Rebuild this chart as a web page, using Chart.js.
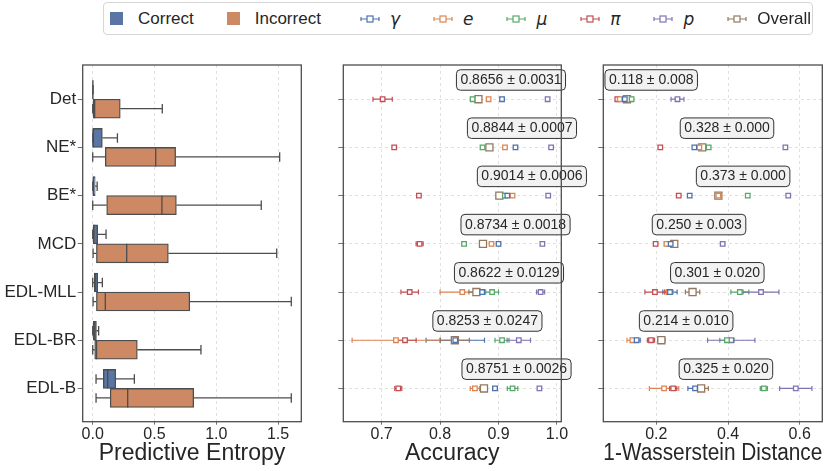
<!DOCTYPE html>
<html>
<head>
  <title>Uncertainty comparison</title>
  <script src="https://cdn.jsdelivr.net/npm/chart.js@4.4.1/dist/chart.umd.min.js"></script>
  <style>
    * {
      margin: 0;
      padding: 0;
      box-sizing: border-box;
    }

    body {
      width: 839px;
      height: 471px;
      background: #ffffff;
      position: relative;
      overflow: hidden;
      font-family: 'Liberation Sans', Arial, sans-serif;
      color: #262626;
    }

    canvas {
      position: absolute;
      top: 0;
    }

    .legend {
      position: absolute;
      left: 103px;
      top: 2px;
      width: 710px;
      height: 33px;
      border: 1px solid #d6d6d6;
      border-radius: 4px;
      background: #fff;
      display: flex;
      align-items: center;
      padding-left: 6px;
      font-size: 17px;
      z-index: 5;
    }

    .legend .item {
      display: flex;
      align-items: center;
      margin-right: 33px;
    }

    .legend .item.wide {
      margin-right: 39px;
    }

    .legend .patch {
      width: 13px;
      height: 13px;
      margin-right: 15px;
    }

    .legend svg {
      margin-right: 10px;
    }

    .legend .sym {
      font-family: 'DejaVu Sans', sans-serif;
      font-style: italic;
    }
  </style>
</head>
<body>
<div class="legend" id="legend"></div>
<canvas id="entropyChart" width="320" height="471" style="left:0"></canvas>
<canvas id="accChart" width="285" height="471" style="left:310px"></canvas>
<canvas id="w1Chart" width="264" height="471" style="left:575px"></canvas>

<script>
  const methods = ['Det', 'NE*', 'BE*', 'MCD', 'EDL-MLL', 'EDL-BR', 'EDL-B'];

  // predictive entropy boxes: whisker low, q1, median, q3, whisker high
  const correctLow  = [0.000, 0.000, 0.000, 0.000, 0.000, 0.000, 0.027];
  const correctQ1   = [0.000, 0.000, 0.000, 0.000, 0.013, 0.005, 0.086];
  const correctMed  = [0.001, 0.002, 0.005, 0.010, 0.020, 0.012, 0.121];
  const correctQ3   = [0.002, 0.078, 0.020, 0.040, 0.040, 0.030, 0.186];
  const correctHigh = [0.004, 0.200, 0.036, 0.108, 0.078, 0.048, 0.337];

  const incorrectLow  = [0.000, 0.000, 0.000, 0.003, 0.003, 0.000, 0.027];
  const incorrectQ1   = [0.000, 0.102, 0.113, 0.030, 0.030, 0.016, 0.142];
  const incorrectMed  = [0.016, 0.510, 0.560, 0.275, 0.102, 0.031, 0.283];
  const incorrectQ3   = [0.223, 0.671, 0.677, 0.612, 0.785, 0.361, 0.817];
  const incorrectHigh = [0.563, 1.513, 1.364, 1.489, 1.607, 0.876, 1.607];

  const seriesNames = ['γ', 'e', 'μ', 'π', 'p'];
  const seriesColors = ['#4c72b0', '#dd8452', '#55a868', '#c44e52', '#8172b3'];
  const overallColor = '#937860';
  const correctColor = '#5875a4';
  const incorrectColor = '#cc8963';

  // accuracy per property (mean, spread)
  const accGamma = [0.906, 0.929, 0.915, 0.900, 0.872, 0.826, 0.894];
  const accGammaErr = [0.003, 0.000, 0.000, 0.002, 0.004, 0.050, 0.004];
  const accE = [0.883, 0.911, 0.924, 0.888, 0.838, 0.7245, 0.8596];
  const accEErr = [0.000, 0.000, 0.000, 0.002, 0.038, 0.075, 0.008];
  const accMu = [0.8556, 0.8726, 0.9108, 0.841, 0.889, 0.906, 0.924];
  const accMuErr = [0.002, 0.000, 0.000, 0.003, 0.011, 0.012, 0.009];
  const accPi = [0.7017, 0.7215, 0.7638, 0.765, 0.748, 0.740, 0.7285];
  const accPiErr = [0.0165, 0.000, 0.000, 0.006, 0.015, 0.019, 0.006];
  const accP = [0.984, 0.990, 0.985, 0.975, 0.972, 0.9347, 0.970];
  const accPErr = [0.000, 0.000, 0.000, 0.000, 0.007, 0.020, 0.000];
  const accOverall = [0.8656, 0.8844, 0.9014, 0.8734, 0.8622, 0.8253, 0.8751];
  const accOverallErr = [0.0031, 0.0007, 0.0006, 0.0018, 0.0129, 0.0247, 0.0026];

  // 1-Wasserstein distance per property (mean, spread)
  const w1Gamma = [0.112, 0.306, 0.293, 0.240, 0.238, 0.145, 0.308];
  const w1GammaErr = [0.003, 0.000, 0.000, 0.000, 0.020, 0.010, 0.020];
  const w1E = [0.098, 0.320, 0.373, 0.228, 0.235, 0.133, 0.2215];
  const w1EErr = [0.004, 0.000, 0.000, 0.005, 0.012, 0.015, 0.041];
  const w1Mu = [0.131, 0.346, 0.455, 0.235, 0.433, 0.397, 0.500];
  const w1MuErr = [0.003, 0.000, 0.000, 0.000, 0.025, 0.020, 0.010];
  const w1Pi = [0.091, 0.211, 0.2625, 0.198, 0.196, 0.185, 0.247];
  const w1PiErr = [0.003, 0.000, 0.000, 0.005, 0.028, 0.010, 0.010];
  const w1P = [0.259, 0.560, 0.568, 0.385, 0.492, 0.409, 0.589];
  const w1PErr = [0.018, 0.000, 0.000, 0.005, 0.050, 0.066, 0.045];
  const w1Overall = [0.118, 0.328, 0.373, 0.250, 0.301, 0.214, 0.325];
  const w1OverallErr = [0.008, 0.000, 0.000, 0.003, 0.020, 0.010, 0.020];

  const entropyTicks = [0.0, 0.5, 1.0, 1.5];
  const accTicks = [0.7, 0.8, 0.9, 1.0];
  const w1Ticks = [0.2, 0.4, 0.6];
  const rowTicks = methods.map((m, i) => i);

  Chart.defaults.font.family = "'Liberation Sans', Arial, sans-serif";
  Chart.defaults.color = '#262626';

  const lineGray = '#4d4d4d';
  const gridColor = '#d9d9d9';
  const boxThickness = 19;

  // legend
  const legend = document.getElementById('legend');
  function addPatch(color, text, extra) {
    const it = document.createElement('div');
    it.className = 'item' + (extra ? ' wide' : '');
    it.innerHTML = `<span class="patch" style="background:${color}"></span>${text}`;
    legend.appendChild(it);
  }
  function addErrMarker(color, text, cls) {
    const it = document.createElement('div');
    it.className = 'item';
    it.innerHTML =
      `<svg width="20" height="10" viewBox="0 0 20 10">` +
      `<path d="M1 5H19M1 3V7M19 3V7" stroke="${color}" stroke-width="1.2" fill="none"/>` +
      `<rect x="7" y="2" width="6" height="6" fill="#fff" stroke="${color}" stroke-width="1.2"/></svg>` +
      `<span class="${cls}">${text}</span>`;
    legend.appendChild(it);
  }
  addPatch(correctColor, 'Correct', false);
  addPatch(incorrectColor, 'Incorrect', true);
  seriesNames.forEach((n, i) => addErrMarker(seriesColors[i], n, 'sym'));
  addErrMarker(overallColor, 'Overall', '');
  legend.lastChild.style.marginRight = '0';

  const framePlugin = {
    id: 'frame',
    afterDraw(chart) {
      const {ctx, chartArea: a} = chart;
      ctx.save();
      ctx.strokeStyle = lineGray;
      ctx.lineWidth = 1.3;
      ctx.strokeRect(a.left, a.top, a.right - a.left, a.bottom - a.top);
      ctx.restore();
    }
  };

  function fixedTicks(values) {
    return scale => { scale.ticks = values.map(v => ({value: v})); };
  }

  function xScale(min, max, ticks, title) {
    return {
      type: 'linear',
      min: min,
      max: max,
      offset: false,
      afterBuildTicks: fixedTicks(ticks),
      afterFit: s => { s.height = 49.3; },
      grid: {color: gridColor, lineWidth: 0.8, offset: false, tickLength: 3, tickColor: lineGray, tickBorderDash: []},
      border: {display: false, dash: [3, 3]},
      ticks: {
        padding: 0,
        font: {size: 16},
        color: '#262626',
        callback: v => v.toFixed(1)
      },
      title: {display: true, text: title, font: {size: 23}, color: '#262626', padding: {top: 0, bottom: 3.5}}
    };
  }

  function yScale(width, showLabels, drawGrid) {
    return {
      type: 'linear',
      reverse: true,
      min: -0.71,
      max: 6.69,
      offset: false,
      afterBuildTicks: fixedTicks(rowTicks),
      afterFit: s => { s.width = width; },
      grid: {color: gridColor, lineWidth: 0.8, offset: false, drawOnChartArea: drawGrid, tickLength: 5, tickColor: lineGray, tickBorderDash: []},
      border: {display: false, dash: [3, 3]},
      ticks: {
        padding: 1.5,
        font: {size: 17},
        color: '#262626',
        callback: v => showLabels ? methods[v] : ''
      }
    };
  }

  // ---- predictive entropy boxplot ----
  const whiskerPlugin = {
    id: 'whiskers',
    afterDatasetsDraw(chart) {
      const {ctx} = chart;
      const x = chart.scales.x, y = chart.scales.y;
      const groups = [
        [correctLow, correctQ1, correctMed, correctQ3, correctHigh, -1],
        [incorrectLow, incorrectQ1, incorrectMed, incorrectQ3, incorrectHigh, 1]
      ];
      ctx.save();
      ctx.strokeStyle = lineGray;
      ctx.lineWidth = 1.3;
      groups.forEach(([lo, q1, med, q3, hi, side]) => {
        methods.forEach((m, i) => {
          const cy = y.getPixelForValue(i) + side * boxThickness / 2;
          const h = boxThickness / 2;
          const cap = boxThickness / 4;
          ctx.beginPath();
          ctx.moveTo(x.getPixelForValue(lo[i]), cy);
          ctx.lineTo(x.getPixelForValue(q1[i]), cy);
          ctx.moveTo(x.getPixelForValue(q3[i]), cy);
          ctx.lineTo(x.getPixelForValue(hi[i]), cy);
          ctx.moveTo(x.getPixelForValue(lo[i]), cy - cap);
          ctx.lineTo(x.getPixelForValue(lo[i]), cy + cap);
          ctx.moveTo(x.getPixelForValue(hi[i]), cy - cap);
          ctx.lineTo(x.getPixelForValue(hi[i]), cy + cap);
          ctx.moveTo(x.getPixelForValue(med[i]), cy - h);
          ctx.lineTo(x.getPixelForValue(med[i]), cy + h);
          ctx.stroke();
        });
      });
      ctx.restore();
    }
  };

  new Chart(document.getElementById('entropyChart'), {
    type: 'bar',
    data: {
      datasets: [
        {
          label: 'Correct',
          data: methods.map((m, i) => ({x: [correctQ1[i], correctQ3[i]], y: i})),
          backgroundColor: correctColor,
          borderColor: lineGray,
          borderWidth: 1.3,
          borderSkipped: false,
          barThickness: boxThickness
        },
        {
          label: 'Incorrect',
          data: methods.map((m, i) => ({x: [incorrectQ1[i], incorrectQ3[i]], y: i})),
          backgroundColor: incorrectColor,
          borderColor: lineGray,
          borderWidth: 1.3,
          borderSkipped: false,
          barThickness: boxThickness
        }
      ]
    },
    options: {
      indexAxis: 'y',
      responsive: false,
      animation: false,
      layout: {padding: {top: 65, right: 18.7, bottom: 0, left: 0}},
      plugins: {legend: {display: false}, tooltip: {enabled: false}},
      scales: {
        x: xScale(-0.081, 1.688, entropyTicks, 'Predictive Entropy'),
        y: yScale(82.7, true, false)
      }
    },
    plugins: [whiskerPlugin, framePlugin]
  });

  // ---- error-bar panels ----
  function makeErrChart(id, means, errs, overall, overallErr, ticks, min, max, title, digits, yWidth, rightPad) {
    const allMeans = means.concat([overall]);
    const allErrs = errs.concat([overallErr]);
    const allColors = seriesColors.concat([overallColor]);

    const errPlugin = {
      id: 'errbars',
      beforeDatasetsDraw(chart) {
        const {ctx} = chart;
        const x = chart.scales.x, y = chart.scales.y;
        ctx.save();
        ctx.lineWidth = 1.2;
        allMeans.forEach((arr, s) => {
          ctx.strokeStyle = allColors[s];
          arr.forEach((v, i) => {
            const e = allErrs[s][i];
            if (e <= 0) return;
            const cy = y.getPixelForValue(i);
            const x1 = x.getPixelForValue(v - e), x2 = x.getPixelForValue(v + e);
            ctx.beginPath();
            ctx.moveTo(x1, cy); ctx.lineTo(x2, cy);
            ctx.moveTo(x1, cy - 2.5); ctx.lineTo(x1, cy + 2.5);
            ctx.moveTo(x2, cy - 2.5); ctx.lineTo(x2, cy + 2.5);
            ctx.stroke();
          });
        });
        ctx.restore();
      },
      afterDatasetsDraw(chart) {
        const {ctx} = chart;
        const x = chart.scales.x, y = chart.scales.y;
        ctx.save();
        ctx.font = "14px 'Liberation Sans', Arial, sans-serif";
        ctx.textBaseline = 'middle';
        overall.forEach((v, i) => {
          const text = `${v.toFixed(digits)} ± ${overallErr[i].toFixed(digits)}`;
          const w = ctx.measureText(text).width + 8;
          const left = x.getPixelForValue(v) - 22;
          const top = y.getPixelForValue(i) - 29.5;
          ctx.beginPath();
          ctx.roundRect(left, top, w, 20.5, 4);
          ctx.fillStyle = '#f2f2f2';
          ctx.fill();
          ctx.strokeStyle = '#333333';
          ctx.lineWidth = 1;
          ctx.stroke();
          ctx.fillStyle = '#262626';
          ctx.fillText(text, left + 4, top + 10.5);
        });
        ctx.restore();
      }
    };

    const datasets = allMeans.map((arr, s) => ({
      label: s < seriesNames.length ? seriesNames[s] : 'Overall',
      data: arr.map((v, i) => ({x: v, y: i})),
      pointStyle: 'rect',
      pointRadius: s < seriesNames.length ? 3.2 : 5,
      pointBorderWidth: 1.3,
      borderColor: allColors[s],
      backgroundColor: '#ffffff',
      showLine: false
    }));

    new Chart(document.getElementById(id), {
      type: 'scatter',
      data: {datasets},
      options: {
        responsive: false,
        animation: false,
        layout: {padding: {top: 65, right: rightPad, bottom: 0, left: 0}},
        plugins: {legend: {display: false}, tooltip: {enabled: false}},
        scales: {
          x: xScale(min, max, ticks, title),
          y: yScale(yWidth, false, true)
        }
      },
      plugins: [errPlugin, framePlugin]
    });
  }

  makeErrChart('accChart',
    [accGamma, accE, accMu, accPi, accP],
    [accGammaErr, accEErr, accMuErr, accPiErr, accPErr],
    accOverall, accOverallErr, accTicks, 0.6344, 1.0074, 'Accuracy', 4, 33.3, 33.7);

  makeErrChart('w1Chart',
    [w1Gamma, w1E, w1Mu, w1Pi, w1P],
    [w1GammaErr, w1EErr, w1MuErr, w1PiErr, w1PErr],
    w1Overall, w1OverallErr, w1Ticks, 0.052, 0.663, '1-Wasserstein Distance', 3, 28.3, 16.7);
</script>
</body>
</html>
